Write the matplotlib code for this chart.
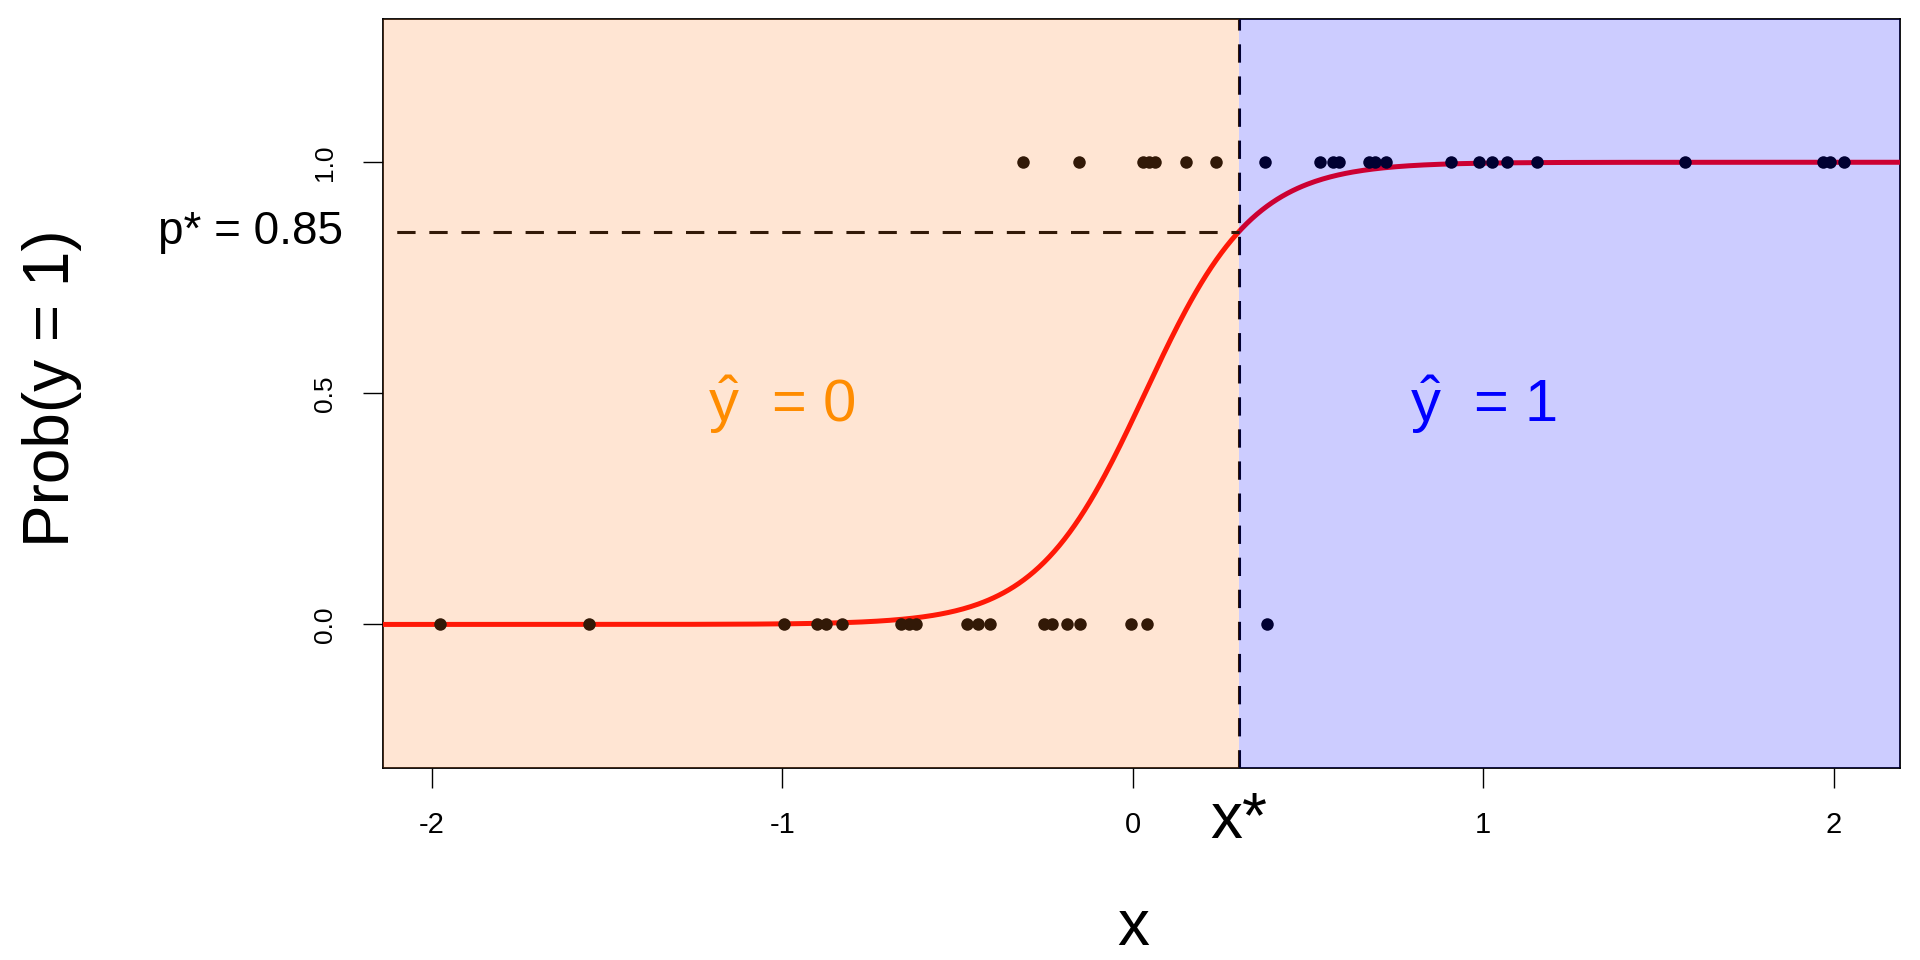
import numpy as np
import matplotlib
matplotlib.use("Agg")
import matplotlib.pyplot as plt
import matplotlib.transforms as mtransforms

plt.rcParams['font.family'] = ['Liberation Sans', 'DejaVu Sans']
plt.rcParams['mathtext.fontset'] = 'custom'
plt.rcParams['mathtext.rm'] = 'Liberation Sans'
plt.rcParams['mathtext.it'] = 'Liberation Sans:italic'
plt.rcParams['axes.unicode_minus'] = False

# ---- data ----
x_obs_y0 = [-1.977, -1.550, -0.995, -0.902, -0.875, -0.829, -0.660, -0.637, -0.619,
            -0.474, -0.442, -0.408, -0.252, -0.229, -0.187, -0.151, -0.004, 0.040,
            0.384]
x_obs_y1 = [-0.312, -0.153, 0.030, 0.047, 0.063, 0.151, 0.237,
            0.377, 0.534, 0.572, 0.589, 0.675, 0.691, 0.722, 0.907,
            0.989, 1.024, 1.067, 1.154, 1.575, 1.970, 1.989, 2.030]
beta0 = -0.226      # fitted logistic intercept
beta1 = 6.47        # fitted logistic slope
x_star = 0.303
p_star = 0.85
x_ticks = [-2, -1, 0, 1, 2]
x_tick_labels = ['-2', '-1', '0', '1', '2']
y_ticks = [0.0, 0.5, 1.0]
y_tick_labels = ['0.0', '0.5', '1.0']
label_y0 = r'$\hat{\mathrm{y}}$  = 0'
label_y1 = r'$\hat{\mathrm{y}}$  = 1'

W, H = 1920, 960
fig = plt.figure(figsize=(W / 100, H / 100), dpi=100)
L, R, T, B = 383.3, 1900, 19, 767.7
ax = fig.add_axes([L / W, 1 - B / H, (R - L) / W, (B - T) / H])
xlim = (-2.138, 2.189)
ylim = (-0.31, 1.31)

grid = np.linspace(xlim[0], xlim[1], 600)
prob = 1.0 / (1.0 + np.exp(-(beta0 + beta1 * grid)))
ax.plot(grid, prob, color='red', lw=3.6, zorder=3)

ax.plot(x_obs_y0, np.zeros(len(x_obs_y0)), 'o', color='black', ms=9, mew=0, zorder=4)
ax.plot(x_obs_y1, np.ones(len(x_obs_y1)), 'o', color='black', ms=9, mew=0, zorder=4)

dash = (6, 4.5)
ax.axvline(x_star, color='black', lw=2.2, ls=(0, dash), zorder=4)
ax.plot([xlim[0], x_star], [p_star, p_star], color='black', lw=2.2, ls=(6, dash), zorder=4)

ax.axvspan(xlim[0], x_star, color='#FF7F24', alpha=0.2, lw=0, zorder=5)
ax.axvspan(x_star, xlim[1], color='blue', alpha=0.2, lw=0, zorder=5)

ax.set_xlim(*xlim)
ax.set_ylim(*ylim)
ax.set_xticks(x_ticks)
ax.set_xticklabels(x_tick_labels, fontsize=21)
ax.set_yticks(y_ticks)
ax.set_yticklabels(y_tick_labels, fontsize=19, rotation=90, va='center')
ax.tick_params(axis='x', length=14.4, width=1.0, pad=16.5)
ax.tick_params(axis='y', length=14.4, width=1.0, pad=19)
for s in ax.spines.values():
    s.set_linewidth(1.3)
    s.set_color('black')

ax.text(-1, 0.437, label_y0, color='darkorange', fontsize=43, ha='center', va='baseline', zorder=6)
ax.text(1, 0.437, label_y1, color='blue', fontsize=43, ha='center', va='baseline', zorder=6)

tr_left = mtransforms.blended_transform_factory(ax.transAxes, ax.transData)
ax.text(-0.0266, p_star, 'p* = 0.85', transform=tr_left, ha='right', va='center',
        fontsize=33, clip_on=False)

tr_bot = mtransforms.blended_transform_factory(ax.transData, fig.transFigure)
ax.text(x_star, 1 - 838.3 / H, 'x*', transform=tr_bot, ha='center', va='baseline',
        fontsize=46, clip_on=False)

fig.text(1133 / W, 2 / H, 'x', ha='center', va='bottom', fontsize=46)
fig.text(52 / W, 1 - 388.5 / H, 'Prob(y = 1)', rotation=90, ha='center', va='center', fontsize=46)

fig.savefig('out.png', dpi=100)
